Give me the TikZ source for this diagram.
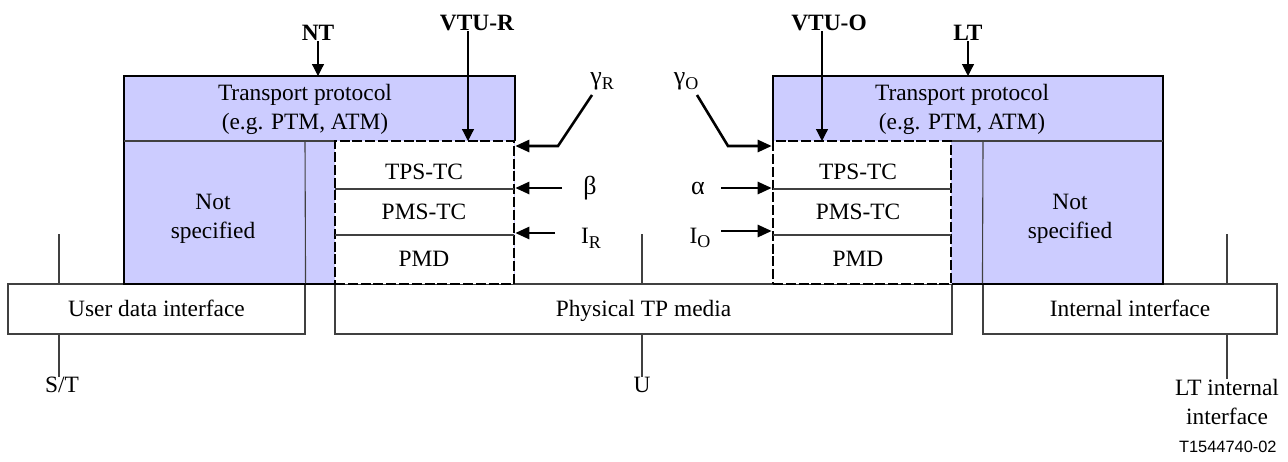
\documentclass[tikz,border=0pt]{standalone}
\usepackage{fontspec}
\setmainfont{Liberation Serif}
\newfontfamily\figsans{Liberation Sans}
\usetikzlibrary{arrows.meta}
\definecolor{tpblue}{RGB}{204,204,255}
\newcommand{\lowsub}[1]{\raisebox{-0.45ex}{\fontsize{9}{10}\selectfont #1}}
\tikzset{lbl/.style={font=\fontsize{11.7}{14.5}\selectfont, inner sep=0pt, align=center},
	toplbl/.style={lbl, font=\fontsize{11.7}{14.5}\selectfont\bfseries},
	thinline/.style={draw=black!75, line width=0.55pt},
	outline/.style={draw=black, line width=1pt},
	iface/.style={lbl, draw=black!75, line width=0.55pt, fill=white, minimum height=25pt, text height=9.5pt, text depth=2pt},
	vtubox/.style={draw=black, line width=1.3pt, dash pattern=on 5pt off 1.4pt, fill=white},
	pointer/.style={-{Triangle[length=6pt,width=6pt]}, line width=0.6pt},
	ifarrow/.style={-{Triangle[length=7pt,width=6pt]}, line width=1.3pt}}

\begin{document}
\begin{tikzpicture}[x=0.5pt,y=-0.5pt]
		\useasboundingbox (0,0) rectangle (1288,461);
		\node[iface, minimum width=148.5pt] (udi) at (156.5,309) {User data interface}; %bottom boxes
		\node[iface, minimum width=308.5pt] (ptp) at (643.5,309) {Physical TP media};
		\node[iface, minimum width=147pt] (ifc) at (1130,309) {Internal interface};
		\node[lbl] (st) at (62,385) {S/T}; %reference points
		\node[lbl] (u) at (642,385) {U};
		\node[lbl, anchor=north] (lti) at (1227,379) {LT internal\\interface};
		\coordinate (stx) at (59,234);
		\coordinate (ux) at (642,234);
		\coordinate (ltx) at (1227,234);
		\foreach \p/\b/\l in {stx/udi/st, ux/ptp/u, ltx/ifc/lti}
		{\draw[thinline] (\p) -- (\p |- \b.north); \draw[thinline] (\p |- \b.south) -- (\p |- \l.north);}
		\fill[tpblue] (124,76) rectangle (515,284); %NT side
		\draw[outline] (335,284) -- (124,284) -- (124,76) -- (515,76) -- (515,141);
		\draw[thinline] (124,141) -- (335,141);
		\draw[thinline] (305,141) -- (udi.north east);
		\node[vtubox, minimum width=89.5pt, minimum height=71.5pt] (vtuR) at (424.5,212.5) {};
		\fill[tpblue] (773,76) rectangle (1163,284); %LT side
		\draw[outline] (952,284) -- (1163,284) -- (1163,76) -- (773,76) -- (773,141);
		\draw[thinline] (952,141) -- (1163,141);
		\draw[thinline] (983,141) -- (ifc.north west);
		\node[vtubox, minimum width=89pt, minimum height=71.5pt] (vtuO) at (862,212.5) {};
		\foreach \y in {189,235}
		{\draw[thinline] (335,\y) -- (514,\y); \draw[thinline] (773,\y) -- (951,\y);}
		\node[lbl] (tpR) at (305,109) {Transport protocol\\(e.g. PTM, ATM)};
		\node[lbl] (tpO) at (962,109) {Transport protocol\\(e.g. PTM, ATM)};
		\node[lbl] (nsR) at (213,219) {Not\\specified};
		\node[lbl] (nsO) at (1070,219) {Not\\specified};
		\node[lbl] (tpsR) at (424,172) {TPS-TC};
		\node[lbl] (pmsR) at (424,212) {PMS-TC};
		\node[lbl] (pmdR) at (424,259) {PMD};
		\node[lbl] (tpsO) at (858,172) {TPS-TC};
		\node[lbl] (pmsO) at (858,212) {PMS-TC};
		\node[lbl] (pmdO) at (858,259) {PMD};
		\node[toplbl] (nt) at (318,33) {NT}; %top labels
		\node[toplbl] (lt) at (968,33) {LT};
		\node[toplbl] (vturlbl) at (477,23) {VTU-R};
		\node[toplbl] (vtuolbl) at (829,23) {VTU-O};
		\coordinate (ntin) at (318,76);
		\coordinate (ltin) at (968,76);
		\coordinate (rline) at (468,141);
		\coordinate (oline) at (822,141);
		\draw[pointer] (nt.south) -- (ntin);
		\draw[pointer] (lt.south) -- (ltin);
		\draw[pointer] (rline |- vturlbl.south) -- (rline);
		\draw[pointer] (oline |- vtuolbl.south) -- (oline);
		\node[lbl] (gR) at (602,81) {\fontsize{13}{14}\selectfont γ\lowsub{R}}; %interface points
		\node[lbl] (gO) at (686,81) {\fontsize{13}{14}\selectfont γ\lowsub{O}};
		\node[lbl] (beta) at (590,188) {\fontsize{13}{14}\selectfont β};
		\node[lbl] (alpha) at (698,188) {\fontsize{13}{14}\selectfont α};
		\node[lbl] (iR) at (591,238) {I\lowsub{R}};
		\node[lbl] (iO) at (700,238) {I\lowsub{O}};
		\coordinate (gRtail) at (592,95);
		\coordinate (gRbend) at (558,146);
		\coordinate (gOtail) at (697,95);
		\coordinate (gObend) at (728,146);
		\draw[ifarrow] (gRtail) -- (gRbend) -- (gRbend -| vtuR.east);
		\draw[ifarrow] (gOtail) -- (gObend) -- (gObend -| vtuO.west);
		\coordinate (btail) at (562,188);
		\coordinate (atail) at (721,188);
		\coordinate (iRtail) at (555,233);
		\coordinate (iOtail) at (721,231);
		\draw[ifarrow] (btail) -- (btail -| vtuR.east);
		\draw[ifarrow] (iRtail) -- (iRtail -| vtuR.east);
		\draw[ifarrow] (atail) -- (atail -| vtuO.west);
		\draw[ifarrow] (iOtail) -- (iOtail -| vtuO.west);
		\node[font=\figsans\fontsize{8.2}{9}\selectfont, inner sep=0pt, anchor=east] (figid) at (1277,447) {T1544740-02};
	\end{tikzpicture}
\end{document}
